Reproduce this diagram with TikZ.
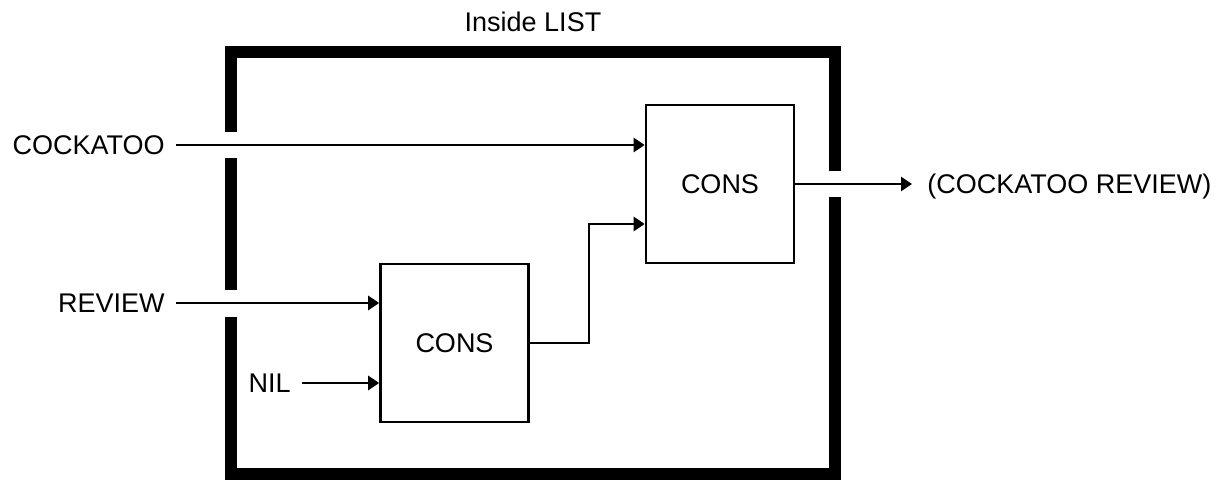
\documentclass[tikz,border=0pt]{standalone}
\usepackage{fontspec}
\setmainfont{Liberation Sans}
\usetikzlibrary{arrows.meta,calc}
\colorlet{ink}{black}
\tikzset{
  wall/.style={draw=ink,line width=6pt,line join=miter},
  consbox/.style={draw=ink,line width=1.3pt,minimum width=74pt,minimum height=79pt,inner sep=0pt},
  wire/.style={draw=ink,line width=1.3pt,-{Triangle[length=5.5pt,width=7pt]}},
  inlbl/.style={anchor=east,inner xsep=5.5pt,inner ysep=0pt,text height=9.7pt,text depth=0pt},
  outlbl/.style={anchor=west,inner xsep=7.5pt,inner ysep=0pt,text height=9.7pt,text depth=0pt}
}

\begin{document}
\begin{tikzpicture}[x=0.5pt,y=-0.5pt,font=\fontsize{13.5}{16}\selectfont]
  \useasboundingbox (0,0) rectangle (1226,481);
  % outer box with gaps for the wires
  \draw[wall] (231,132) -- (231,52) -- (835,52) -- (835,171);
  \draw[wall] (835,197) -- (835,474) -- (231,474) -- (231,317);
  \draw[wall] (231,290) -- (231,158);
  \node[anchor=base] (title) at (533,32) {Inside LIST};
  % the two CONS blocks
  \node[consbox] (top) at (720,184) {CONS};
  \node[consbox] (bot) at (454.5,343) {CONS};
  % inputs and output
  \node[inlbl] (cockatoo) at (176,145) {COCKATOO};
  \node[inlbl] (review) at (176,303) {REVIEW};
  \node[inlbl] (nil) at (302,383) {NIL};
  \node[outlbl] (result) at (912,184) {(COCKATOO REVIEW)};
  \coordinate (in2) at ($(top.west)+(0,40)$);
  \draw[wire] (cockatoo.east) -- (cockatoo.east -| top.west);
  \draw[wire] (review.east) -- (review.east -| bot.west);
  \draw[wire] (nil.east) -- (nil.east -| bot.west);
  \draw[wire] (bot.east) -- ++(59,0) |- (in2);
  \draw[wire] (top.east) -- (result.west);
\end{tikzpicture}
\end{document}
